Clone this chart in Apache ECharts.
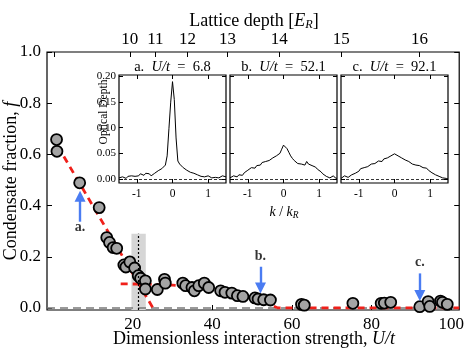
<!DOCTYPE html>
<html>
<head>
<meta charset="utf-8">
<title>Condensate fraction vs U/t</title>
<script src="https://cdn.jsdelivr.net/npm/echarts@6/dist/echarts.min.js"></script>
<style>
  html, body { margin : 0; padding : 0; background : #fff; }
  .chart { width : 467px; height : 356px; }
</style>
</head>
<body>
<div class="chart"></div>
<script>
/*global echarts */

// ------------------------------- BEGIN DATA --------------------------------
// main panel: measured condensate fraction
var uPoints = [
  0.9, 1.0, 6.7, 11.6, 13.5, 14.2, 15.1, 16.0, 17.8, 18.3, 19.3, 20.5,
  21.4, 22.0, 23.2, 23.2, 26.2, 28.0, 28.2, 32.6, 33.3, 34.9, 35.5, 36.6,
  38.0, 39.1, 42.1, 43.2, 44.9, 46.3, 47.7, 50.7, 51.5, 52.9, 54.6, 62.4,
  63.1, 75.3, 82.4, 83.2, 84.8, 92.1, 94.2, 94.6, 97.3, 97.8, 99.0
];
var fPoints = [
  0.658, 0.612, 0.489, 0.392, 0.275, 0.256, 0.236, 0.233, 0.168, 0.160, 0.180, 0.156,
  0.126, 0.116, 0.106, 0.074, 0.072, 0.112, 0.097, 0.097, 0.087, 0.080, 0.067, 0.087,
  0.097, 0.080, 0.067, 0.061, 0.058, 0.048, 0.045, 0.039, 0.035, 0.032, 0.031, 0.014,
  0.011, 0.018, 0.018, 0.019, 0.022, 0.005, 0.025, 0.006, 0.027, 0.022, 0.014
];

// red dashed fits
var fitSteepU = [1.2, 25.4];
var fitSteepF = [0.632, -0.008];
var fitPlateauU = [17, 24, 30, 34, 38, 41, 44, 47, 50, 52.5, 55, 56.5, 102];
var fitPlateauF = [0.094, 0.093, 0.089, 0.085, 0.078, 0.071, 0.062, 0.052, 0.039, 0.027, 0.010, 0.0, 0.0];

// gray zero line, shaded band, dotted marker
var zeroU = [-1.5, 102];
var zeroF = [0, 0];
var bandU = [19.7, 23.3];
var bandTopF = 0.29;
var dottedU = 21.5;

// blue arrows with their letters
var arrowU = [6.8, 52.1, 92.1];
var arrowFromF = [0.337, 0.161, 0.135];
var arrowToF = [0.436, 0.078, 0.049];
var arrowText = ['a.', 'b.', 'c.'];
var arrowTextF = [0.314, 0.200, 0.177];

// tick labels
var uTicks = [20, 40, 60, 80, 100];
var fracTicks = [0, 0.2, 0.4, 0.6, 0.8, 1.0];
var depthTickU = [0.4, 19.3, 25.7, 33.8, 43.8, 56.8, 72.4, 92.0];
var depthTickLabels = ['', '10', '11', '12', '13', '14', '15', '16'];
var kTicks = [-1, 0, 1];
var odTicks = [0, 0.05, 0.10, 0.15, 0.20];

// insets: optical depth profiles
var insetTitles = ['a.', 'b.', 'c.'];
var insetU = ['6.8', '52.1', '92.1'];
var kFine = [
  -1.5, -1.45, -1.4, -1.35, -1.3, -1.25, -1.2, -1.15, -1.1, -1.05,
  -1.0, -0.95, -0.9, -0.85, -0.8, -0.75, -0.7, -0.65, -0.6, -0.55,
  -0.5, -0.45, -0.4, -0.35, -0.3, -0.25, -0.2, -0.15, -0.1, -0.05,
  0.0, 0.05, 0.1, 0.15, 0.2, 0.25, 0.3, 0.35, 0.4, 0.45,
  0.5, 0.55, 0.6, 0.65, 0.7, 0.75, 0.8, 0.85, 0.9, 0.95,
  1.0, 1.05, 1.1, 1.15, 1.2, 1.25, 1.3, 1.35, 1.4, 1.45, 1.5
];
var odA = [
  0.002, 0.000, 0.004, 0.002, 0.001, 0.005, 0.003, 0.006, 0.004, 0.005,
  0.008, 0.006, 0.010, 0.009, 0.007, 0.011, 0.009, 0.010, 0.006, 0.008,
  0.011, 0.013, 0.016, 0.018, 0.020, 0.023, 0.027, 0.045, 0.098, 0.150,
  0.190, 0.155, 0.080, 0.035, 0.029, 0.026, 0.022, 0.020, 0.017, 0.016,
  0.013, 0.014, 0.011, 0.012, 0.008, 0.009, 0.005, 0.006, 0.004, 0.003,
  0.006, 0.004, 0.002, 0.004, 0.003, 0.005, 0.002, 0.004, 0.006, 0.003, 0.004
];
var odB = [
  0.002, 0.001, 0.006, 0.003, 0.004, 0.008, 0.009, 0.007, 0.012, 0.014,
  0.017, 0.015, 0.022, 0.019, 0.021, 0.026, 0.029, 0.027, 0.032, 0.030,
  0.034, 0.033, 0.036, 0.038, 0.041, 0.040, 0.045, 0.047, 0.050, 0.058,
  0.066, 0.064, 0.059, 0.052, 0.045, 0.040, 0.036, 0.033, 0.030, 0.031,
  0.029, 0.026, 0.027, 0.034, 0.029, 0.028, 0.026, 0.024, 0.023, 0.019,
  0.018, 0.014, 0.010, 0.008, 0.005, 0.003, 0.002, 0.004, 0.006, 0.002, 0.001
];
var odC = [
  0.001, 0.004, 0.006, 0.003, 0.003, 0.006, 0.008, 0.009, 0.011, 0.013,
  0.015, 0.020, 0.023, 0.022, 0.025, 0.024, 0.027, 0.029, 0.031, 0.030,
  0.033, 0.035, 0.036, 0.034, 0.039, 0.040, 0.041, 0.043, 0.045, 0.047,
  0.049, 0.047, 0.045, 0.046, 0.041, 0.039, 0.037, 0.035, 0.034, 0.031,
  0.029, 0.030, 0.027, 0.026, 0.026, 0.024, 0.022, 0.023, 0.021, 0.017,
  0.014, 0.012, 0.011, 0.008, 0.007, 0.005, 0.004, 0.002, 0.003, 0.001, 0.000
];
// -------------------------------- END DATA ---------------------------------

var chartSelf = (function () {
  // ---------------------- BEGIN MODULE SCOPE VARIABLES ---------------------
  var
    configMap = {
      font      : 'Liberation Serif',
      blue      : '#4a7cf2',
      red       : '#f0201a',
      mainGrid  : { left : 47, top : 52, width : 415, height : 258 },
      insetTop  : 75,
      insetSize : [107, 108],
      insetLeft : [119, 230, 341],
      uRange    : [-1.5, 102],
      fRange    : [-0.008, 1.0],
      kRange    : [-1.5, 1.5],
      odRange   : [-0.008, 0.203]
    },
    stateMap = { container : null },

    zip, richStyle, makeAxis, textItem, buildAxes, buildSeries, buildGraphic,
    renderChart, initModule
  ;
  // ----------------------- END MODULE SCOPE VARIABLES ----------------------

  // -------------------------- BEGIN UTILITY METHODS ------------------------
  zip = function (xs, ys) {
    return xs.map(function (x, i) { return [x, ys[i]]; });
  };

  richStyle = function (size) {
    return {
      i   : { fontFamily : configMap.font, fontSize : size, fontStyle : 'italic', fill : '#000' },
      sub : { fontFamily : configMap.font, fontSize : size * 0.68, fontStyle : 'italic',
              fill : '#000', padding : [size * 0.45, 0, 0, 0] }
    };
  };

  // Begin utility /makeAxis/
  makeAxis = function (grid, pos, range, ticks, tickLen, label) {
    return {
      gridIndex : grid,
      type      : 'value',
      position  : pos,
      min       : range[0],
      max       : range[1],
      axisLine  : { show : false, onZero : false },
      splitLine : { show : false },
      axisTick  : {
        show : true, inside : true, length : tickLen, customValues : ticks,
        lineStyle : { color : '#000', width : 1 }
      },
      axisLabel : label ? {
        show : true, customValues : ticks, formatter : label.formatter,
        fontFamily : configMap.font, fontSize : label.size, color : '#000',
        margin : label.margin
      } : { show : false }
    };
  };
  // End utility /makeAxis/

  textItem = function (x, y, text, size, rotate) {
    return {
      type : 'text', x : x, y : y, rotation : rotate ? Math.PI / 2 : 0,
      style : { text : text, font : size + 'px "' + configMap.font + '"', fill : '#000',
                align : 'center', verticalAlign : 'middle', rich : richStyle(size) }
    };
  };
  // -------------------------- END UTILITY METHODS --------------------------

  // ---------------------------- BEGIN DOM METHODS --------------------------
  buildAxes = function () {
    var xAxes = [], yAxes = [], i, g;

    xAxes.push(makeAxis(0, 'bottom', configMap.uRange, uTicks, 5,
      { size : 17, margin : 6, formatter : function (v) { return String(v); } }));
    xAxes.push(makeAxis(0, 'top', configMap.uRange, depthTickU, 5,
      { size : 17, margin : 4, formatter : function (v) {
          return depthTickLabels[depthTickU.indexOf(v)];
        } }));
    yAxes.push(makeAxis(0, 'left', configMap.fRange, fracTicks, 5,
      { size : 17, margin : 6, formatter : function (v) { return v.toFixed(1); } }));
    yAxes.push(makeAxis(0, 'right', configMap.fRange, fracTicks, 5, null));

    for (i = 0; i < 3; i++) {
      g = i + 1;
      xAxes.push(makeAxis(g, 'bottom', configMap.kRange, kTicks, 4,
        { size : 11.5, margin : 5, formatter : function (v) { return String(v); } }));
      xAxes.push(makeAxis(g, 'top', configMap.kRange, kTicks, 4, null));
      yAxes.push(makeAxis(g, 'left', configMap.odRange, odTicks, 4, i === 0
        ? { size : 11, margin : 3, formatter : function (v) { return v.toFixed(2); } }
        : null));
      yAxes.push(makeAxis(g, 'right', configMap.odRange, odTicks, 4, null));
    }
    return { x : xAxes, y : yAxes };
  };

  buildSeries = function () {
    var series = [], profiles = [odA, odB, odC], i;

    // gray zero line, hosting the shaded band and the dotted marker
    series.push({
      type : 'line', xAxisIndex : 0, yAxisIndex : 0, z : 1,
      data : zip(zeroU, zeroF), showSymbol : false, silent : true,
      lineStyle : { color : '#7a7a7a', width : 1.6, type : [8, 5] },
      markArea : {
        silent : true,
        itemStyle : { color : '#d6d6d6' },
        data : [[{ coord : [bandU[0], configMap.fRange[0]] }, { coord : [bandU[1], bandTopF] }]]
      },
      markLine : {
        silent : true, symbol : ['none', 'none'], label : { show : false },
        lineStyle : { color : '#000', width : 1.2, type : [2, 2] },
        data : [[{ coord : [dottedU, configMap.fRange[0]] }, { coord : [dottedU, bandTopF] }]]
      }
    });

    // red dashed fits
    [[fitSteepU, fitSteepF], [fitPlateauU, fitPlateauF]].forEach(function (fit) {
      series.push({
        type : 'line', xAxisIndex : 0, yAxisIndex : 0, z : 2,
        data : zip(fit[0], fit[1]), showSymbol : false, silent : true,
        lineStyle : { color : configMap.red, width : 2.8, type : [7, 5] }
      });
    });

    // measured points
    series.push({
      type : 'scatter', xAxisIndex : 0, yAxisIndex : 0, z : 4,
      data : zip(uPoints, fPoints), symbolSize : 11,
      itemStyle : { color : '#a4a4a4', borderColor : '#000', borderWidth : 1.8, opacity : 1 }
    });

    // arrow letters, hosting the blue arrows
    series.push({
      type : 'scatter', xAxisIndex : 0, yAxisIndex : 0, z : 5,
      data : arrowU.map(function (u, i) { return [u, arrowTextF[i], arrowText[i]]; }),
      symbolSize : 0, silent : true,
      label : {
        show : true, position : 'inside', formatter : function (p) { return p.value[2]; },
        fontFamily : configMap.font, fontSize : 14, fontWeight : 'bold', color : '#000'
      },
      markLine : {
        silent : true, symbol : ['none', 'triangle'], symbolSize : 11,
        label : { show : false },
        lineStyle : { color : configMap.blue, width : 2.4, type : 'solid' },
        itemStyle : { color : configMap.blue },
        data : arrowU.map(function (u, i) {
          return [{ coord : [u, arrowFromF[i]] }, { coord : [u, arrowToF[i]] }];
        })
      }
    });

    // inset profiles
    for (i = 0; i < 3; i++) {
      series.push({
        type : 'line', xAxisIndex : 2 + 2 * i, yAxisIndex : 2 + 2 * i, z : 3,
        data : zip(kFine, profiles[i]), showSymbol : false, silent : true,
        lineStyle : { color : '#000', width : 1 },
        markLine : {
          silent : true, symbol : ['none', 'none'], label : { show : false },
          lineStyle : { color : '#000', width : 0.8, type : [3, 2] },
          data : [{ yAxis : 0 }]
        }
      });
    }
    return series;
  };

  buildGraphic = function () {
    var items = [], i, cx;

    items.push(textItem(254, 21, 'Lattice depth [{i|E}{sub|R}]', 18));
    items.push(textItem(254, 339, 'Dimensionless interaction strength, {i|U/t}', 18));
    items.push(textItem(11, 181, 'Condensate fraction, {i|f}', 18, true));
    items.push(textItem(104, 112, 'Optical Depth', 11.5, true));
    items.push(textItem(284, 212, '{i|k} / {i|k}{sub|R}', 14));
    for (i = 0; i < 3; i++) {
      cx = configMap.insetLeft[i] + configMap.insetSize[0] / 2;
      items.push(textItem(cx, 67,
        insetTitles[i] + '  {i|U/t}  =  ' + insetU[i], 14.5));
    }
    return items;
  };

  renderChart = function () {
    var myChart, option, axes, grids;

    myChart = echarts.init(stateMap.container, null, { renderer : 'canvas' });
    axes = buildAxes();

    grids = [{
      left : configMap.mainGrid.left, top : configMap.mainGrid.top,
      width : configMap.mainGrid.width, height : configMap.mainGrid.height,
      show : true, borderColor : '#000', borderWidth : 1.2, backgroundColor : 'transparent'
    }];
    configMap.insetLeft.forEach(function (left) {
      grids.push({
        left : left, top : configMap.insetTop,
        width : configMap.insetSize[0], height : configMap.insetSize[1],
        show : true, borderColor : '#000', borderWidth : 1.2, backgroundColor : '#fff'
      });
    });

    option = {
      animation : false,
      backgroundColor : '#fff',
      grid : grids,
      xAxis : axes.x,
      yAxis : axes.y,
      series : buildSeries(),
      graphic : buildGraphic()
    };

    myChart.setOption(option);
  };
  // ----------------------------- END DOM METHODS ---------------------------

  // -------------------------- BEGIN PUBLIC METHODS -------------------------
  initModule = function (container) {
    stateMap.container = container;
    renderChart();
  };

  return { initModule : initModule };
  // --------------------------- END PUBLIC METHODS --------------------------
}());

chartSelf.initModule(document.getElementsByClassName('chart')[0]);
</script>
</body>
</html>
